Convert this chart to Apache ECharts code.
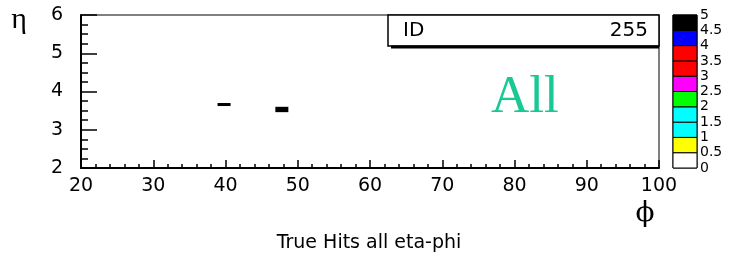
<!DOCTYPE html>
<html>
<head>
<meta charset="utf-8">
<script src="https://cdn.jsdelivr.net/npm/echarts@6/dist/echarts.min.js"></script>
<style>
  html, body { margin: 0; padding: 0; background: #fff; }
  #main { width: 737px; height: 260px; }
</style>
</head>
<body>
<div id="main"></div>
<script>
// 数据: [phiMin, phiMax, etaMin, etaMax, 计数]
var cells = [
  [38.9, 40.7, 3.62, 3.70, 5],
  [46.9, 48.7, 3.46, 3.60, 5]
];
// 色标的分段 (下界, 上界) 及颜色
var levelLow = [0, 0.5, 1, 1.5, 2, 2.5, 3, 3.5, 4, 4.5];
var levelHigh = [0.5, 1, 1.5, 2, 2.5, 3, 3.5, 4, 4.5, 5];
var levelColors = ['#ffffff', '#ffff00', '#00ffff', '#00ffff', '#00ff00',
                   '#ff00ff', '#ff0000', '#ff0000', '#0000ff', '#000000'];
var phiRange = [20, 100];
var etaRange = [2, 6];
var histId = '255';

function colorOf (v) {
  for (var i = 0; i < levelHigh.length; i++) {
    if (v <= levelHigh[i]) return levelColors[i];
  }
  return levelColors[levelColors.length - 1];
}

var barData = [];
for (var i = 0; i < levelLow.length; i++) {
  barData.push([levelLow[i], levelHigh[i], i]);
}

var numFont = { fontFamily: 'DejaVu Sans', fontSize: 19, color: '#000' };

var dom = document.getElementById('main');
var myChart = echarts.init(dom);

var option = {
  animation: false,
  backgroundColor: '#fff',
  grid: [
    { left: 81, top: 15, width: 578, height: 153, show: true, borderColor: '#000', borderWidth: 1 },
    { left: 673, top: 15, width: 24, height: 153, show: true, borderColor: '#000', borderWidth: 1 }
  ],
  xAxis: [
    {
      gridIndex: 0, type: 'value', min: phiRange[0], max: phiRange[1], interval: 10,
      axisLine: { lineStyle: { color: '#000', width: 2 } },
      axisTick: { inside: true, length: 8, lineStyle: { color: '#000', width: 1.5 } },
      minorTick: { show: true, splitNumber: 5, length: 4, lineStyle: { color: '#000', width: 1.5 } },
      axisLabel: Object.assign({ margin: 9 }, numFont),
      splitLine: { show: false }
    },
    {
      gridIndex: 1, type: 'value', min: 0, max: 1, show: false
    }
  ],
  yAxis: [
    {
      gridIndex: 0, type: 'value', min: etaRange[0], max: etaRange[1], interval: 1,
      axisLine: { lineStyle: { color: '#000', width: 2 } },
      axisTick: { inside: true, length: 16, lineStyle: { color: '#000', width: 1.5 } },
      minorTick: { show: true, splitNumber: 4, length: 7, lineStyle: { color: '#000', width: 1.5 } },
      axisLabel: Object.assign({ margin: 18 }, numFont),
      splitLine: { show: false }
    },
    {
      gridIndex: 1, type: 'value', min: 0, max: 5, interval: 0.5, position: 'right',
      axisLine: { show: false },
      axisTick: { show: false },
      axisLabel: {
        margin: 3, fontFamily: 'DejaVu Sans', fontSize: 14, lineHeight: 14, color: '#000',
        showMinLabel: true, showMaxLabel: true,
        formatter: function (v) { return String(v); }
      },
      splitLine: { show: false }
    }
  ],
  series: [
    {
      type: 'custom',
      xAxisIndex: 0, yAxisIndex: 0,
      data: cells,
      renderItem: function (params, api) {
        var p0 = api.coord([api.value(0), api.value(3)]);
        var p1 = api.coord([api.value(1), api.value(2)]);
        return {
          type: 'rect',
          shape: { x: p0[0], y: p0[1], width: p1[0] - p0[0], height: p1[1] - p0[1] },
          style: { fill: colorOf(api.value(4)) }
        };
      }
    },
    {
      type: 'custom',
      xAxisIndex: 1, yAxisIndex: 1,
      data: barData,
      renderItem: function (params, api) {
        var p0 = api.coord([0, api.value(1)]);
        var p1 = api.coord([1, api.value(0)]);
        return {
          type: 'rect',
          shape: { x: p0[0], y: p0[1], width: p1[0] - p0[0], height: p1[1] - p0[1] },
          style: { fill: levelColors[api.value(2)], stroke: '#000', lineWidth: 1 }
        };
      }
    }
  ],
  graphic: [
    // ID 统计框
    { type: 'rect', shape: { x: 388, y: 15, width: 271, height: 31 },
      style: { fill: '#fff', stroke: '#000', lineWidth: 1.5 }, z: 100 },
    { type: 'line', shape: { x1: 391, y1: 47, x2: 659, y2: 47 },
      style: { stroke: '#000', lineWidth: 3 }, z: 100 },
    { type: 'text', x: 403, y: 31, z: 101,
      style: { text: 'ID', fontFamily: 'DejaVu Sans', fontSize: 20, fill: '#000', verticalAlign: 'middle' } },
    { type: 'text', x: 648, y: 31, z: 101,
      style: { text: histId, fontFamily: 'DejaVu Sans', fontSize: 20, fill: '#000', align: 'right', verticalAlign: 'middle' } },
    { type: 'text', x: 491, y: 98, z: 101,
      style: { text: 'All', fontFamily: 'Liberation Serif', fontSize: 53, fill: '#19c994', verticalAlign: 'middle' } },
    { type: 'text', x: 19, y: 20, z: 101,
      style: { text: 'η', fontFamily: 'Liberation Serif', fontSize: 30, fill: '#000', align: 'center', verticalAlign: 'middle' } },
    { type: 'text', x: 645, y: 214, z: 101,
      style: { text: 'ϕ', fontFamily: 'DejaVu Serif', fontSize: 28, fill: '#000', align: 'center', verticalAlign: 'middle' } },
    { type: 'text', x: 369, y: 243, z: 101,
      style: { text: 'True Hits all eta-phi', fontFamily: 'DejaVu Sans', fontSize: 19, fill: '#000', align: 'center', verticalAlign: 'middle' } }
  ]
};
myChart.setOption(option);
</script>
</body>
</html>
